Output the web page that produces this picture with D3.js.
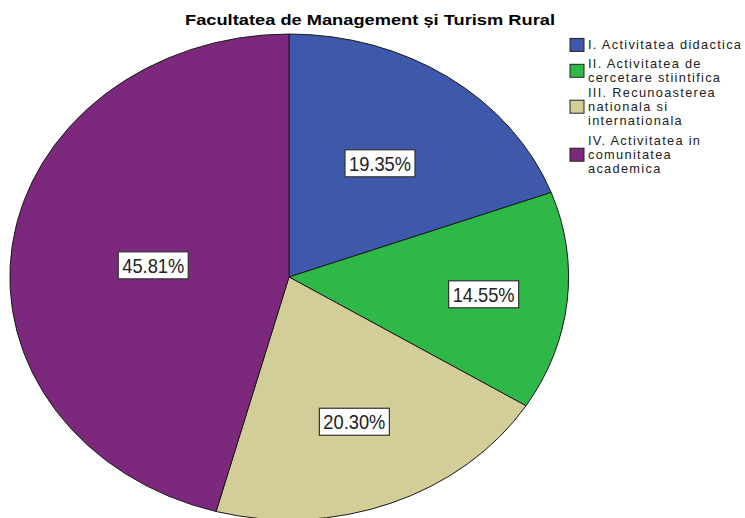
<!DOCTYPE html>
<html>
<head>
<meta charset="utf-8">
<script src="https://cdn.jsdelivr.net/npm/d3@7"></script>
<style>
  html, body { margin: 0; padding: 0; background: #fff; }
  svg { display: block; font-family: "Liberation Sans", Arial, sans-serif; }
</style>
</head>
<body>
<svg id="chart" width="745" height="518"></svg>
<script>
const title = "Facultatea de Management și Turism Rural";
const categories = [
  "I. Activitatea didactica",
  "II. Activitatea de cercetare stiintifica",
  "III. Recunoasterea nationala si internationala",
  "IV. Activitatea in comunitatea academica"
];
const legendLines = [
  ["I. Activitatea didactica"],
  ["II. Activitatea de", "cercetare stiintifica"],
  ["III. Recunoasterea", "nationala si", "internationala"],
  ["IV. Activitatea in", "comunitatea", "academica"]
];
const values = [19.35, 14.55, 20.30, 45.81];
const colors = ["#3E58AC", "#2EB848", "#D3CE97", "#7C287D"];
const labelRadius = [0.57, 0.70, 0.64, 0.49];

const svg = d3.select("#chart");
const cx = 289, cy = 277, rx = 279.5, ry = 243;

const pie = d3.pie().sort(null).value(d => d)(values);
const arc = d3.arc().innerRadius(0).outerRadius(1);

const g = svg.append("g").attr("transform", `translate(${cx},${cy})`);
g.selectAll("path.slice").data(pie).join("path")
  .attr("class", "slice")
  .attr("d", arc)
  .attr("transform", `scale(${rx},${ry})`)
  .attr("fill", (d, i) => colors[i])
  .attr("stroke", "#1a1a1a")
  .attr("stroke-width", 1)
  .attr("vector-effect", "non-scaling-stroke");

// labels
const fmt = v => v.toFixed(2) + "%";
pie.forEach((d, i) => {
  const a = (d.startAngle + d.endAngle) / 2;
  const f = labelRadius[i];
  const x = cx + Math.sin(a) * rx * f;
  const y = cy - Math.cos(a) * ry * f + (i === 3 ? 4 : 0);
  const w = 70, h = 27;
  svg.append("rect")
    .attr("x", x - w / 2).attr("y", y - h / 2)
    .attr("width", w).attr("height", h)
    .attr("fill", "#fff").attr("stroke", "#333").attr("stroke-width", 1.2);
  svg.append("text")
    .attr("x", x).attr("y", y + 7.5)
    .attr("text-anchor", "middle")
    .attr("font-size", 21)
    .attr("textLength", 62)
    .attr("lengthAdjust", "spacingAndGlyphs")
    .attr("fill", "#222")
    .text(fmt(values[i]));
});

// title
svg.append("text")
  .attr("x", 370).attr("y", 25)
  .attr("text-anchor", "middle")
  .attr("font-size", 15)
  .attr("font-weight", "bold")
  .attr("textLength", 370)
  .attr("lengthAdjust", "spacingAndGlyphs")
  .attr("fill", "#000")
  .text(title);

// legend
const lineH = 13.8;
const itemTops = [38, 57, 86, 134];
const lg = svg.append("g");
legendLines.forEach((lines, i) => {
  const top = itemTops[i];
  const blockH = lines.length * lineH;
  const sw = 13;
  lg.append("rect")
    .attr("x", 570).attr("y", top + blockH / 2 - sw / 2)
    .attr("width", 14).attr("height", sw)
    .attr("fill", colors[i]).attr("stroke", "#222").attr("stroke-width", 1);
  lines.forEach((t, j) => {
    lg.append("text")
      .attr("x", 588).attr("y", top + j * lineH + 11)
      .attr("font-size", 12.8)
      .attr("letter-spacing", 1.3)
      .attr("fill", "#222")
      .text(t);
  });
});
</script>
</body>
</html>
